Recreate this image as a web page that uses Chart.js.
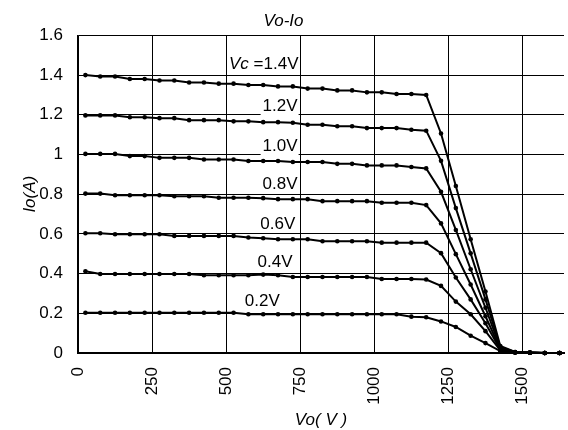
<!DOCTYPE html>
<html>
<head>
<meta charset="utf-8">
<title>Vo-Io</title>
<script src="https://cdn.jsdelivr.net/npm/chart.js@4.4.0/dist/chart.umd.min.js"></script>
<style>
  html, body { margin: 0; padding: 0; background: #fff; }
  #wrap { width: 568px; height: 430px; }
</style>
</head>
<body>
<div id="wrap"><canvas id="c" width="568" height="430"></canvas></div>
<script>
// Output voltage Vo (V), sampled every 50 V
const vo = [25, 75, 125, 175, 225, 275, 325, 375, 425, 475, 525, 575, 625, 675, 725, 775,
            825, 875, 925, 975, 1025, 1075, 1125, 1175, 1225, 1275, 1325, 1375, 1425, 1475,
            1525, 1575, 1625];

// Output current Io (A) for each control voltage Vc
const io14 = [1.400, 1.393, 1.393, 1.380, 1.380, 1.373, 1.373, 1.363, 1.363, 1.357, 1.357, 1.350,
              1.350, 1.343, 1.343, 1.332, 1.332, 1.323, 1.323, 1.313, 1.313, 1.305, 1.305, 1.300,
              1.106, 0.841, 0.573, 0.310, 0.035, 0.005, 0.002, 0, 0];
const io12 = [1.197, 1.197, 1.197, 1.188, 1.188, 1.183, 1.183, 1.173, 1.173, 1.173, 1.167, 1.167,
              1.163, 1.163, 1.160, 1.150, 1.150, 1.142, 1.142, 1.133, 1.133, 1.133, 1.125, 1.120,
              0.968, 0.730, 0.502, 0.270, 0.030, 0.005, 0.002, 0, 0];
const io10 = [1.003, 1.003, 1.003, 0.992, 0.992, 0.983, 0.983, 0.983, 0.975, 0.975, 0.975, 0.967,
              0.967, 0.967, 0.962, 0.962, 0.962, 0.953, 0.953, 0.945, 0.945, 0.945, 0.937, 0.930,
              0.812, 0.620, 0.422, 0.228, 0.025, 0.004, 0.002, 0, 0];
const io08 = [0.803, 0.803, 0.795, 0.795, 0.795, 0.795, 0.790, 0.790, 0.790, 0.782, 0.782, 0.782,
              0.780, 0.775, 0.775, 0.775, 0.765, 0.765, 0.765, 0.765, 0.757, 0.757, 0.757, 0.745,
              0.653, 0.498, 0.345, 0.185, 0.020, 0.004, 0.001, 0, 0];
const io06 = [0.603, 0.603, 0.598, 0.598, 0.598, 0.598, 0.590, 0.590, 0.590, 0.590, 0.590, 0.582,
              0.578, 0.573, 0.573, 0.573, 0.563, 0.563, 0.563, 0.563, 0.556, 0.556, 0.556, 0.556,
              0.503, 0.380, 0.270, 0.150, 0.017, 0.003, 0.001, 0, 0];
const io04 = [0.412, 0.398, 0.398, 0.398, 0.398, 0.398, 0.398, 0.398, 0.392, 0.392, 0.392, 0.392,
              0.395, 0.392, 0.383, 0.383, 0.383, 0.383, 0.383, 0.383, 0.373, 0.373, 0.373, 0.370,
              0.338, 0.259, 0.195, 0.110, 0.013, 0.003, 0.001, 0, 0];
const io02 = [0.203, 0.203, 0.203, 0.203, 0.203, 0.203, 0.203, 0.203, 0.203, 0.203, 0.203, 0.195,
              0.195, 0.195, 0.195, 0.195, 0.195, 0.195, 0.195, 0.195, 0.195, 0.195, 0.183, 0.180,
              0.159, 0.131, 0.087, 0.050, 0.010, 0.002, 0.001, 0, 0];

const curveNames = ['1.4V', '1.2V', '1.0V', '0.8V', '0.6V', '0.4V', '0.2V'];
const curveValues = [io14, io12, io10, io08, io06, io04, io02];

// Tick values on the axes
const xTicks = [0, 250, 500, 750, 1000, 1250, 1500];
const yTicks = [0, 0.2, 0.4, 0.6, 0.8, 1, 1.2, 1.4, 1.6];

const FONT = 'Liberation Sans, Arial, sans-serif';

const datasets = curveValues.map((vals, i) => ({
  label: curveNames[i],
  data: vo.map((v, k) => ({ x: v, y: vals[k] })),
  borderColor: '#000',
  backgroundColor: '#000',
  borderWidth: 2,
  pointRadius: 2.3,
  pointBorderWidth: 0,
  pointBackgroundColor: '#000',
  tension: 0,
  showLine: true,
  fill: false,
  clip: false
}));

// Draws the Vc annotations next to each curve, on a white box
const curveLabelPlugin = {
  id: 'curveLabels',
  beforeDatasetsDraw(chart, args, opts) {
    const { ctx, scales: { x, y } } = chart;
    ctx.save();
    ctx.textBaseline = 'middle';
    ctx.textAlign = 'right';
    opts.anchors.forEach((a, i) => {
      const xr = x.getPixelForValue(a.vo);
      const yc = y.getPixelForValue(a.io);
      const main = (i === 0 ? '=' : '') + curveNames[i];
      ctx.font = `17px ${FONT}`;
      const wMain = ctx.measureText(main).width;
      let wPre = 0;
      if (i === 0) {
        ctx.font = `italic 17px ${FONT}`;
        wPre = ctx.measureText('Vc ').width;
      }
      ctx.fillStyle = '#fff';
      ctx.fillRect(xr - wMain - wPre - 2, yc - 17, wMain + wPre + 3, 26);
      ctx.fillStyle = '#000';
      ctx.font = `17px ${FONT}`;
      ctx.fillText(main, xr, yc);
      if (i === 0) {
        ctx.font = `italic 17px ${FONT}`;
        ctx.fillText('Vc ', xr - wMain, yc);
      }
    });
    ctx.restore();
  }
};

new Chart(document.getElementById('c'), {
  type: 'scatter',
  data: { datasets },
  plugins: [curveLabelPlugin],
  options: {
    responsive: false,
    animation: false,
    devicePixelRatio: 1,
    layout: { padding: { left: 0, right: 1, top: 0, bottom: 0 } },
    plugins: {
      legend: { display: false },
      tooltip: { enabled: false },
      title: {
        display: true,
        text: 'Vo-Io',
        color: '#000',
        font: { family: FONT, size: 17, style: 'italic', weight: 'normal', lineHeight: 1.2 },
        padding: { top: 11, bottom: 4 }
      },
      curveLabels: {
        anchors: [
          { vo: 744, io: 1.455 },
          { vo: 741, io: 1.243 },
          { vo: 741, io: 1.042 },
          { vo: 741, io: 0.851 },
          { vo: 733, io: 0.650 },
          { vo: 724, io: 0.455 },
          { vo: 681, io: 0.259 }
        ]
      }
    },
    scales: {
      x: {
        type: 'linear',
        min: 0,
        max: 1640,
        afterBuildTicks: s => { s.ticks = xTicks.map(v => ({ value: v })); },
        afterFit: s => { s.height = 77; },
        ticks: {
          autoSkip: false,
          minRotation: 90,
          maxRotation: 90,
          padding: 14,
          color: '#000',
          font: { family: FONT, size: 17 },
          callback: v => String(v)
        },
        grid: { color: '#000', lineWidth: 1, drawTicks: false },
        border: { color: '#000', width: 2 },
        title: {
          display: true,
          text: 'Vo( V )',
          color: '#000',
          font: { family: FONT, size: 17, style: 'italic', lineHeight: 1.2 },
          padding: { top: 0, bottom: 0 }
        }
      },
      y: {
        type: 'linear',
        min: 0,
        max: 1.6,
        afterBuildTicks: s => { s.ticks = yTicks.map(v => ({ value: v })); },
        afterFit: s => { s.width = 78; },
        ticks: {
          padding: 15,
          color: '#000',
          font: { family: FONT, size: 17 },
          callback: v => String(+v.toFixed(1))
        },
        grid: { color: '#000', lineWidth: 1, drawTicks: false },
        border: { color: '#000', width: 1.5 },
        title: {
          display: true,
          text: 'Io(A)',
          color: '#000',
          font: { family: FONT, size: 17, style: 'italic', lineHeight: 1.2 },
          padding: { top: 20, bottom: 0 }
        }
      }
    }
  }
});
</script>
</body>
</html>
